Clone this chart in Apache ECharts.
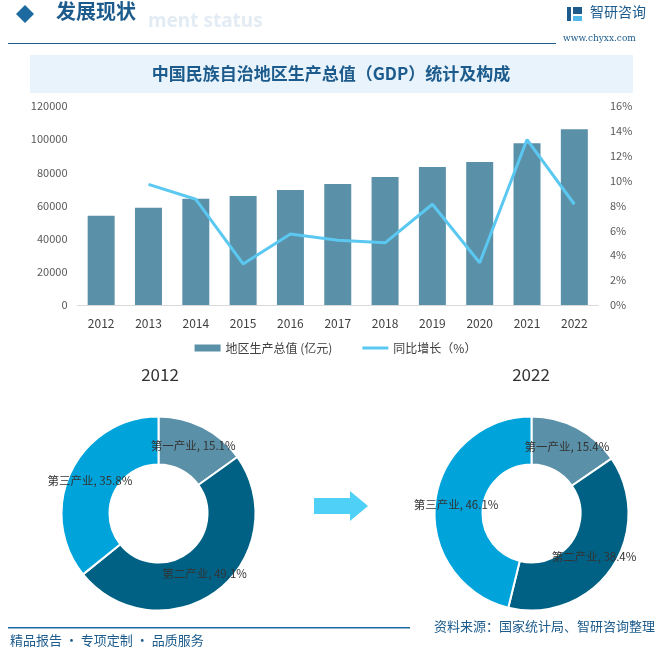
<!DOCTYPE html>
<html><head><meta charset="utf-8">
<script src="https://cdn.jsdelivr.net/npm/echarts@6/dist/echarts.min.js"></script>
<style>html,body{margin:0;padding:0;background:#fff}#c{width:671px;height:657px}</style>
</head><body><div id="c"></div>
<script>
const years = ['2012','2013','2014','2015','2016','2017','2018','2019','2020','2021','2022'];
const gdp = [53800, 58600, 64000, 65800, 69400, 73000, 77200, 83200, 86200, 97600, 106000];
const growth = [null, 9.7, 8.5, 3.3, 5.7, 5.2, 5.0, 8.1, 3.4, 13.3, 8.1];
const leftTicks = [0, 20000, 40000, 60000, 80000, 100000, 120000];
const rightTicks = [0, 2, 4, 6, 8, 10, 12, 14, 16];
const sectors = ['第一产业', '第二产业', '第三产业'];
const share2012 = [15.1, 49.1, 35.8];
const share2022 = [15.4, 38.4, 46.1];
const sectorColors = ['#5b91a8', '#016184', '#00a3da'];

const F = '"Noto Sans CJK SC", "Noto Sans", sans-serif';
const chart = echarts.init(document.getElementById('c'));

function pieData(vals){
  return sectors.map((n,i)=>({name:n, value:vals[i], itemStyle:{color:sectorColors[i]}}));
}
function pieSeries(vals, cx){
  return {
    type:'pie', radius:[49, 97], center:[cx, 513.5], startAngle:90, clockwise:true,
    data:pieData(vals), itemStyle:{borderColor:'#fff', borderWidth:2},
    label:{position:'inside', formatter:'{b}, {c}%', color:'#333', fontSize:11.5, fontFamily:F},
    labelLine:{show:false}, silent:true, animation:false
  };
}

chart.setOption({
  animation:false,
  textStyle:{fontFamily:F},
  grid:{left:77.5, right:73, top:106, bottom:352, containLabel:false},
  legend:{
    top:337, left:'center', itemGap:30, itemWidth:26, itemHeight:7,
    textStyle:{fontSize:12, color:'#404040', fontFamily:F},
    data:[{name:'地区生产总值 (亿元)', icon:'rect'},
          {name:'同比增长（%）', icon:'path://M0,0 L26,0 L26,3 L0,3 Z', itemStyle:{color:'#5bc8f2'}}]
  },
  xAxis:{type:'category', data:years,
    axisLine:{lineStyle:{color:'#d9d9d9'}}, axisTick:{show:false},
    axisLabel:{color:'#404040', fontSize:12, margin:12}},
  yAxis:[
    {type:'value', min:leftTicks[0], max:leftTicks[leftTicks.length-1], interval:20000, splitLine:{show:false},
      axisLabel:{color:'#595959', fontSize:11, margin:10, formatter:v=>String(v)}},
    {type:'value', min:rightTicks[0], max:rightTicks[rightTicks.length-1], interval:2, splitLine:{show:false},
      axisLabel:{color:'#595959', fontSize:11, formatter:'{value}%', margin:12}}
  ],
  series:[
    {name:'地区生产总值 (亿元)', type:'bar', data:gdp, barWidth:27, itemStyle:{color:'#5b91a8'}},
    {name:'同比增长（%）', type:'line', yAxisIndex:1, data:growth, symbol:'none',
      lineStyle:{color:'#5bc8f2', width:3}, itemStyle:{color:'#5bc8f2'}},
    pieSeries(share2012, 158.5),
    pieSeries(share2022, 531.5)
  ],
  graphic:[
    {type:'polygon', shape:{points:[[25,5],[34,14],[25,23],[16,14]]}, style:{fill:'#1c6aa0'}},
    {type:'text', left:148, top:12, style:{text:'ment status', font:'bold 19px "Noto Sans", sans-serif', fill:'#e3ecf4'}},
    {type:'text', left:56, top:1, style:{text:'发展现状', font:'bold 20px "Noto Sans CJK SC"', fill:'#1c5b8c'}},
    {type:'rect', shape:{x:8, y:43, width:548, height:1}, style:{fill:'#1c5b8c'}},
    {type:'rect', shape:{x:567, y:7, width:4, height:14}, style:{fill:'#1c5b8c'}},
    {type:'rect', shape:{x:573, y:7, width:9, height:7}, style:{fill:'#1c5b8c'}},
    {type:'rect', shape:{x:573, y:16, width:9, height:5}, style:{fill:'#4fb8e8'}},
    {type:'text', left:590, top:5, style:{text:'智研咨询', font:'14px "Noto Sans CJK SC"', fill:'#1c5b8c'}},
    {type:'text', left:563, top:34, style:{text:'www.chyxx.com', font:'9px "DejaVu Serif"', fill:'#1c5b8c'}},
    {type:'rect', shape:{x:30, y:55, width:603, height:38}, style:{fill:'#e8f3fb'}},
    {type:'text', x:331, y:74, style:{text:'中国民族自治地区生产总值（GDP）统计及构成', font:'bold 17px "Noto Sans CJK SC"', fill:'#1c5b8c', align:'center', verticalAlign:'middle'}},
    {type:'text', x:160, y:375, style:{text:'2012', font:'17px "Noto Sans CJK SC"', fill:'#333', align:'center', verticalAlign:'middle'}},
    {type:'text', x:531, y:375, style:{text:'2022', font:'17px "Noto Sans CJK SC"', fill:'#333', align:'center', verticalAlign:'middle'}},
    {type:'polygon', shape:{points:[[314,498],[350,498],[350,491],[368,506],[350,521],[350,514],[314,514]]}, style:{fill:'#4fd0f7'}},
    {type:'rect', shape:{x:8, y:627, width:402, height:1.5}, style:{fill:'#1c6aa0'}},
    {type:'text', left:10, top:634, style:{text:'精品报告 · 专项定制 · 品质服务', font:'13px "Noto Sans CJK SC"', fill:'#1c5b8c'}},
    {type:'text', right:16, top:620, style:{text:'资料来源：国家统计局、智研咨询整理', font:'13px "Noto Sans CJK SC"', fill:'#1c5b8c'}}
  ]
});
</script></body></html>
